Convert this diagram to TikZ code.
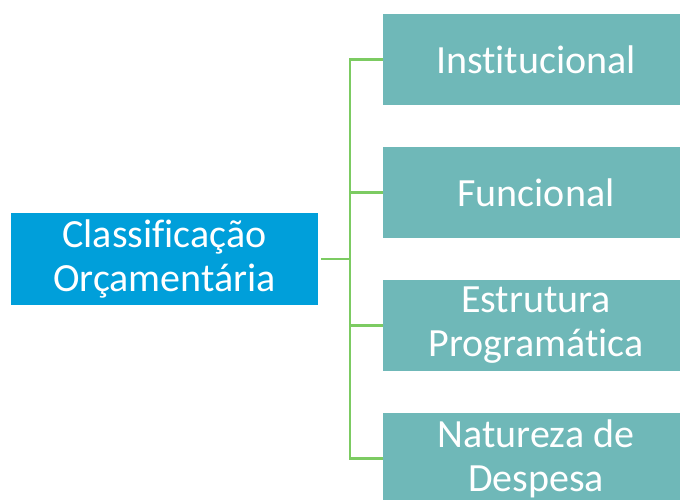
\documentclass[tikz,border=0pt]{standalone}
\usepackage{fontspec}
\setmainfont[Ligatures=NoCommon]{Carlito}
\usetikzlibrary{positioning}

\definecolor{rootblue}{HTML}{009FDA}
\definecolor{leafteal}{HTML}{6FB8B8}
\definecolor{linkgreen}{HTML}{7CCB62}

\tikzset{
	box/.style={inner sep=0pt, text=white, align=center,
		font=\fontsize{40}{44}\selectfont},
	rootbox/.style={box, fill=rootblue, minimum width=307pt, minimum height=92pt},
	leafbox/.style={box, fill=leafteal, minimum width=306pt, minimum height=91pt},
	link/.style={draw=linkgreen, line width=2.6pt}
}

\begin{document}
\begin{tikzpicture}[x=1pt, y=-1pt]
	\useasboundingbox (0,0) rectangle (680,499);
	\clip (0,0) rectangle (680,499);

	\node [rootbox] (root) at (164.5,259) {Classificação\\Orçamentária};

	\node [leafbox] (inst) at (536,59.5) {Institucional};
	\node [leafbox] (func) at (536,192.5) {Funcional};
	\node [leafbox] (prog) at (536,325.5) {Estrutura\\Programática};
	\node [leafbox] (desp) at (536,458.5) {Natureza de\\Despesa};

	\coordinate (trunk) at (350,259);

	\draw [link] ([xshift=3pt]root.east) -- (trunk);
	\draw [link, line cap=rect] (trunk |- inst) -- (trunk |- desp);
	\foreach \leaf in {inst, func, prog, desp}
		\draw [link] (trunk |- \leaf) -- (\leaf.west);
\end{tikzpicture}
\end{document}
